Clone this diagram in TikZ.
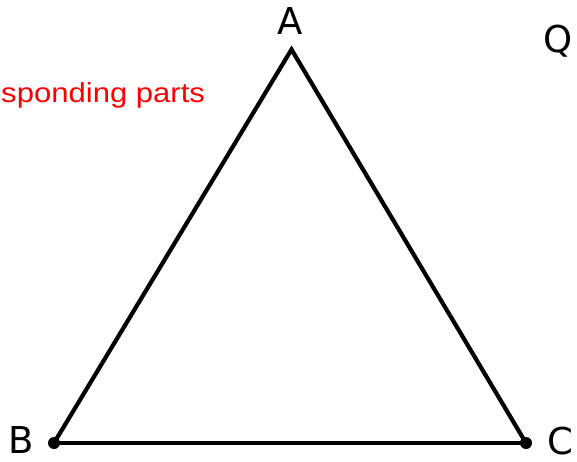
\documentclass[tikz,border=0pt]{standalone}
\usepackage{fontspec}
\setmainfont{DejaVu Sans}
\newfontfamily\redfont{Liberation Sans}
\begin{document}
\begin{tikzpicture}[x=1pt,y=-1pt,
  vlabel/.style={inner sep=0pt, font=\fontsize{37}{40}\selectfont},
  side/.style={line width=4.2pt, black},
  vdot/.style={circle, fill=black, inner sep=0pt, minimum size=12pt},
  note/.style={inner sep=0pt, text=red, xscale=1.13, font=\redfont\fontsize{27.5}{30}\selectfont}]
\useasboundingbox[fill=white] (0,0) rectangle (577,462);
\coordinate (A) at (291.5,49.5);
\coordinate (B) at (54,443);
\coordinate (C) at (526,443);
\draw[side, line join=miter] (B) -- (A) -- (C);
\draw[side] (B) -- (C);
\node[vdot] (dB) at (B) {};
\node[vdot] (dC) at (C) {};
\node[vlabel] (lA) at (290,21.5) {A};
\node[vlabel] (lB) at (21,440) {B};
\node[vlabel] (lC) at (560,441) {C};
\node[vlabel] (lQ) at (558,41) {Q};
\node[note, anchor=base west] (t) at (1,103) {sponding parts};
\end{tikzpicture}
\end{document}
